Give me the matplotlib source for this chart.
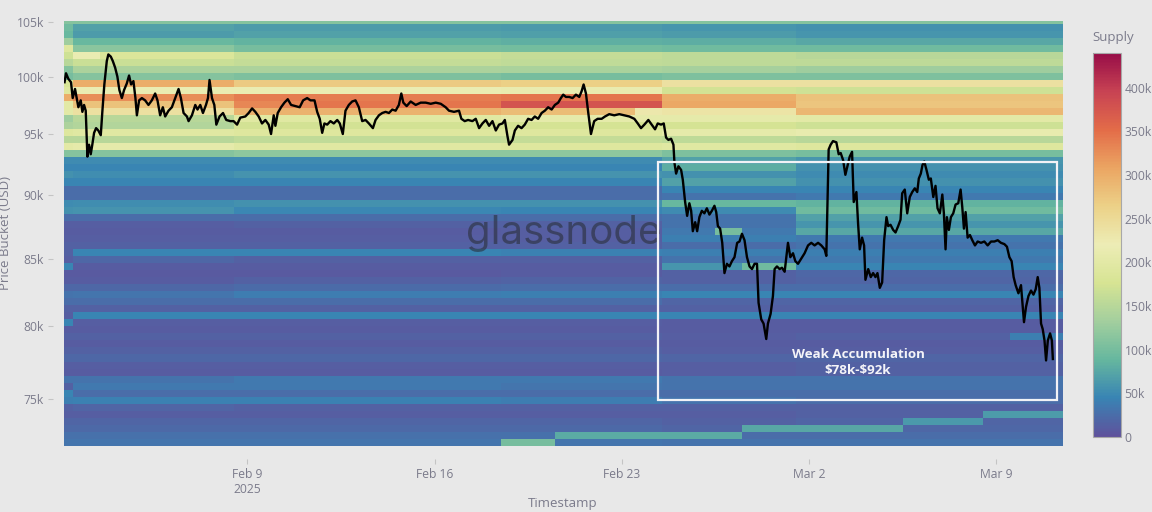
import numpy as np
import pandas as pd
import matplotlib
matplotlib.use("Agg")
import matplotlib.pyplot as plt
import matplotlib.dates as mdates
from matplotlib.colors import ListedColormap
from matplotlib.patches import Rectangle
from matplotlib.ticker import NullLocator, NullFormatter

plt.rcParams['font.family'] = ['Open Sans', 'DejaVu Sans']

# BTC price, hours after 2025-02-02 00:00 UTC, price in k USD
hours = [
    4, 5.3, 7.4, 9.8, 11.3, 13.4, 14.9, 16.4, 18.5, 20.0,
    21.5, 23.0, 24.5, 26.0, 27.5, 28.9, 30.5, 32.3, 34.3, 36.5,
    37.9, 39.7, 41.9, 43.3, 45.5, 47.3, 49.4, 51.4, 53.2, 55.4,
    57.4, 59.9, 61.9, 63.7, 65.8, 67.6, 68.9, 70.9, 73.4, 76.3,
    79.3, 82.3, 85.3, 87.4, 89.8, 92.2, 94.3, 97.3, 100.3, 103.3,
    106.3, 108.4, 110.8, 113.8, 115.3, 118.3, 121.3, 123.3, 125.8, 128.2,
    130.9, 132.7, 134.1, 136.3, 138.4, 140.2, 143.1, 146.2, 149.1, 152.7,
    155.7, 158.8, 161.7, 166.2, 169.2, 172.3, 175.2, 178.2, 181.2, 184.2,
    187.2, 189.3, 191.7, 193.2, 195.3, 198.3, 201.3, 204.3, 207.3, 211.2,
    215.0, 218.1, 221.7, 224.7, 228.3, 230.7, 233.0, 235.2, 237.2, 239.7,
    242.6, 245.6, 248.7, 251.0, 253.7, 256.1, 259.1, 262.1, 265.1, 268.1,
    271.1, 274.1, 277.1, 280.7, 283.1, 286.1, 289.1, 292.1, 295.1, 298.1,
    301.1, 304.0, 306.2, 308.0, 311.0, 314.6, 319.1, 323.6, 328.1, 332.6,
    337.1, 341.6, 346.0, 349.0, 353.5, 358.0, 360.1, 363.1, 366.1, 370.0,
    373.0, 376.0, 379.0, 382.0, 385.0, 388.0, 391.0, 393.9, 397.0, 399.1,
    401.5, 402.9, 406.0, 408.1, 411.0, 414.1, 417.0, 420.0, 423.1, 426.0,
    429.0, 432.1, 435.0, 438.0, 441.1, 444.0, 447.0, 449.4, 451.5, 453.9,
    456.9, 459.9, 462.9, 465.9, 468.0, 469.8, 471.9, 474.0, 476.4, 479.3,
    482.4, 486.0, 489.0, 492.8, 497.3, 501.8, 510.8, 515.3, 518.4, 521.3,
    524.3, 527.9, 530.9, 533.9, 536.3, 539.3, 541.7, 543.8, 545.9, 548.3,
    550.4, 551.3, 552.8, 554.9, 557.3, 558.8, 560.9, 562.7, 564.7, 566.3,
    567.8, 569.9, 571.7, 573.7, 575.9, 578.2, 580.4, 582.7, 584.9, 587.2,
    588.8, 590.3, 592.3, 594.2, 596.2, 598.4, 600.7, 602.9, 605.2, 607.6,
    609.7, 611.9, 614.2, 616.4, 618.7, 620.9, 623.2, 625.4, 626.8, 629.2,
    631.3, 633.7, 635.2, 637.6, 639.7, 641.2, 643.3, 645.7, 647.8, 650.2,
    651.7, 653.2, 655.3, 657.7, 659.8, 662.2, 665.2, 668.1, 671.2, 674.1,
    677.1, 680.2, 683.1, 686.1, 687.6, 689.7, 691.5, 693.6, 696.6, 698.7,
    700.5, 702.7, 704.7, 706.5, 708.6, 710.7, 712.2, 714.6, 716.1, 717.6,
    719.7, 721.5, 722.7, 725.2, 727.5, 729.6, 731.7, 733.5, 735.6, 737.7,
    739.5, 741.6, 743.1, 745.2, 747.6, 749.7, 752.1, 754.2, 755.7, 758.0,
    760.2, 762.5, 764.7, 767.0, 769.2, 770.6, 772.4, 773.9, 775.5, 777.5,
    779.6, 781.4, 783.6, 785.6, 787.4, 789.5, 791.7, 793.1, 794.6, 795.8,
    797.6, 799.4, 801.5, 803.6, 806.0, 808.1, 809.6, 811.1, 812.6, 814.4,
    816.5, 818.6, 821.0, 823.4, 826.4, 829.4, 832.4, 835.4, 838.4, 841.4,
    844.3, 847.4, 849.7, 851.9, 853.9, 855.7, 857.5, 860.0, 862.3, 863.6,
    865.0, 866.8, 869.0, 871.3, 873.5, 875.5, 877.3, 878.8, 880.3, 881.8,
    883.4, 884.8, 886.4, 888.4, 890.0, 890.9,
]
price_k = [
    99.5, 100.3, 99.8, 99.5, 98.1, 98.9, 98.1, 97.3, 97.9, 96.9,
    97.5, 97.0, 93.1, 94.1, 93.3, 94.1, 95.1, 95.5, 95.3, 94.9,
    96.9, 99.3, 101.4, 102.0, 101.8, 101.4, 100.8, 100.0, 98.8, 98.1,
    98.8, 99.4, 100.1, 99.3, 99.6, 98.1, 96.6, 97.9, 98.1, 97.9,
    97.5, 97.9, 98.5, 97.9, 96.6, 97.3, 96.5, 97.0, 97.3, 98.1,
    98.9, 98.1, 96.8, 96.5, 96.1, 96.6, 97.5, 97.1, 97.5, 96.8,
    97.5, 98.1, 99.7, 98.1, 97.5, 95.8, 96.5, 96.8, 96.2, 96.1,
    96.1, 95.8, 96.4, 96.5, 96.8, 97.2, 96.9, 96.5, 95.9, 96.2,
    95.8, 95.0, 96.6, 95.7, 96.8, 97.3, 97.7, 98.0, 97.5, 97.4,
    97.3, 97.9, 98.1, 97.9, 97.9, 96.9, 96.3, 95.1, 95.9, 95.8,
    96.1, 95.9, 96.2, 95.9, 95.0, 97.0, 97.5, 97.8, 97.9, 97.3,
    96.1, 96.2, 95.9, 95.5, 96.2, 96.6, 96.8, 96.9, 96.8, 97.1,
    97.0, 97.5, 98.5, 97.7, 97.4, 97.8, 97.5, 97.7, 97.7, 97.6,
    97.7, 97.6, 97.3, 97.0, 96.9, 97.0, 96.3, 96.1, 96.2, 96.1,
    96.3, 95.5, 95.9, 96.2, 95.7, 96.1, 95.3, 95.8, 95.9, 96.2,
    94.8, 94.1, 94.5, 95.3, 95.7, 95.5, 95.8, 96.3, 96.2, 96.5,
    96.3, 96.8, 97.0, 97.3, 97.1, 97.5, 97.7, 98.1, 98.4, 98.2,
    98.2, 98.1, 98.4, 98.2, 98.7, 99.3, 98.5, 96.8, 95.0, 96.1,
    96.3, 96.3, 96.5, 96.7, 96.6, 96.7, 96.5, 96.3, 95.9, 95.5,
    95.8, 96.2, 95.8, 95.4, 95.9, 95.8, 95.9, 94.7, 94.5, 94.6,
    94.1, 92.6, 91.7, 92.3, 92.0, 91.2, 89.4, 88.3, 89.3, 88.7,
    87.1, 87.8, 87.1, 88.2, 88.7, 88.5, 88.9, 88.4, 88.7, 89.1,
    88.6, 87.5, 87.3, 86.2, 83.9, 84.6, 84.4, 84.8, 85.1, 86.2,
    86.3, 86.9, 86.4, 85.1, 84.4, 84.2, 84.6, 84.6, 81.7, 80.5,
    80.2, 79.1, 80.2, 80.9, 82.2, 84.2, 84.4, 84.2, 84.3, 84.0,
    85.1, 86.2, 85.1, 85.4, 84.8, 84.6, 85.0, 85.4, 86.0, 86.2,
    86.0, 86.2, 86.0, 85.7, 85.2, 93.7, 94.1, 94.4, 94.3, 93.3,
    93.4, 92.8, 91.6, 92.3, 93.1, 93.5, 89.4, 90.2, 87.7, 85.7,
    86.6, 86.0, 83.4, 84.2, 83.6, 83.9, 83.6, 83.9, 82.8, 83.2,
    86.4, 88.2, 87.5, 87.6, 87.2, 87.0, 87.5, 88.0, 90.1, 90.4,
    88.5, 89.8, 90.2, 90.5, 90.2, 91.3, 91.7, 92.4, 92.7, 92.0,
    91.2, 91.3, 89.8, 90.7, 88.9, 88.5, 90.0, 88.5, 85.7, 88.2,
    87.2, 88.2, 88.5, 89.2, 89.3, 90.4, 89.0, 87.3, 88.6, 86.6,
    86.8, 86.4, 86.0, 86.3, 86.2, 86.3, 86.0, 86.3, 86.3, 86.4,
    86.2, 86.1, 85.9, 85.1, 84.8, 83.6, 83.0, 82.4, 83.0, 81.7,
    80.3, 81.4, 82.2, 82.6, 82.3, 82.7, 83.6, 82.8, 80.2, 79.8,
    79.0, 77.6, 79.0, 79.5, 79.0, 77.7,
]
assert len(hours) == len(price_k)

# supply per price bucket (k BTC), 61 log-spaced buckets, listed from the top bucket down
period_start = ["2025-02-02", "2025-02-03", "2025-02-09", "2025-02-19", "2025-02-25", "2025-03-02"]
supply_feb02 = [
    110, 95, 90, 130, 190, 170, 150, 110, 100, 180, 190, 300, 200, 200, 130, 140, 190, 150, 200, 110,
    50, 45, 55, 45, 25, 25, 50, 55, 25, 12, 10, 12, 15, 15,
    12, 45, 8, 10, 20, 30, 25, 15, 12, 45, 10, 15, 10, 15, 20, 12, 10, 30, 15, 45, 40, 15, 12, 18, 22, 28, 32,
]
supply_feb03 = [
    110, 70, 65, 90, 115, 185, 165, 140, 110, 300, 215, 325, 280, 240, 150, 145, 195, 150, 205, 110,
    50, 45, 52, 45, 25, 25, 52, 58, 25, 12, 10, 12, 15, 45,
    20, 10, 8, 10, 20, 32, 25, 15, 45, 12, 10, 15, 10, 15, 20, 12, 10, 30, 35, 25, 42, 18, 12, 18, 22, 28, 32,
]
supply_feb09 = [
    110, 65, 70, 85, 100, 165, 160, 140, 105, 270, 215, 340, 345, 295, 195, 172, 190, 158, 195, 118,
    50, 45, 58, 45, 25, 25, 55, 48, 25, 14, 10, 12, 15, 45,
    15, 10, 8, 14, 24, 38, 25, 15, 45, 12, 10, 15, 10, 15, 20, 12, 10, 35, 35, 25, 42, 15, 12, 18, 22, 28, 32,
]
supply_feb19 = [
    110, 62, 68, 82, 98, 160, 158, 138, 100, 265, 212, 345, 378, 285, 205, 175, 190, 160, 190, 118,
    50, 45, 58, 45, 25, 25, 55, 45, 25, 15, 12, 12, 15, 42,
    15, 10, 10, 16, 25, 40, 25, 15, 45, 12, 10, 15, 10, 15, 20, 12, 10, 35, 32, 25, 38, 15, 12, 18, 22, 28, 32,
]
supply_feb25 = [
    110, 60, 65, 80, 95, 155, 155, 135, 105, 240, 172, 300, 305, 235, 205, 175, 205, 155, 195, 105,
    70, 80, 55, 70, 45, 30, 90, 50, 30, 30, 35, 40, 25, 40,
    30, 60, 15, 15, 25, 45, 18, 15, 45, 10, 10, 12, 10, 12, 18, 12, 12, 30, 30, 25, 30, 15, 12, 15, 18, 25, 30,
]
supply_mar02 = [
    110, 55, 60, 75, 95, 150, 155, 130, 105, 240, 170, 280, 275, 290, 200, 170, 210, 150, 190, 100,
    60, 55, 50, 55, 45, 35, 85, 95, 70, 60, 75, 35, 30, 40,
    35, 45, 20, 18, 25, 45, 18, 15, 45, 10, 10, 15, 10, 12, 18, 14, 15, 30, 30, 25, 25, 15, 15, 18, 20, 25, 30,
]
supply_profiles = [supply_feb02, supply_feb03, supply_feb09, supply_feb19, supply_feb25, supply_mar02]
# (bucket number from the bottom, first day, last day, supply k BTC)
supply_patches = [
    (0, "2025-02-19", "2025-02-20", 100),
    (1, "2025-02-21", "2025-02-27", 78),
    (2, "2025-02-28", "2025-03-05", 75),
    (3, "2025-03-06", "2025-03-08", 62),
    (4, "2025-03-09", "2025-03-11", 65),
    (25, "2025-02-28", "2025-03-01", 95),
    (30, "2025-02-27", "2025-02-27", 100),
    (15, "2025-03-10", "2025-03-11", 40),
    (55, "2025-02-03", "2025-02-03", 215),
    (47, "2025-02-24", "2025-02-24", 230),
    (48, "2025-02-09", "2025-02-11", 330),
]

ytick_vals = [75000, 80000, 85000, 90000, 95000, 100000, 105000]
ytick_labels = ["75k", "80k", "85k", "90k", "95k", "100k", "105k"]
xtick_dates = ["2025-02-09", "2025-02-16", "2025-02-23", "2025-03-02", "2025-03-09"]
xtick_labels = ["Feb 9\n2025", "Feb 16", "Feb 23", "Mar 2", "Mar 9"]
cbar_ticks = [0, 50000, 100000, 150000, 200000, 250000, 300000, 350000, 400000]
cbar_labels = ["0", "50k", "100k", "150k", "200k", "250k", "300k", "350k", "400k"]

bg = '#e8e8e8'
grey = '#7b7b8b'

# grid
days = pd.date_range("2025-02-02", "2025-03-11", freq="D")
n_buckets = len(supply_feb02)
y_edges = np.geomspace(71890, 105510, n_buckets + 1)
x_edges = mdates.date2num(list(days - pd.Timedelta(hours=12)) + [days[-1] + pd.Timedelta(hours=12)])

Z = np.zeros((n_buckets, len(days)))
starts = pd.to_datetime(period_start)
for j, d in enumerate(days):
    idx = int((starts <= d).sum()) - 1
    Z[:, j] = np.array(supply_profiles[idx][::-1], dtype=float)
for row, d0, d1, v in supply_patches:
    mask = (days >= pd.Timestamp(d0)) & (days <= pd.Timestamp(d1))
    Z[row, mask] = v
Z = Z * 1000

base = plt.get_cmap('Spectral_r')(np.linspace(0, 1, 256))[:, :3]
muted = base * 0.88 + np.array([0.40, 0.40, 0.44]) * 0.12
cmap = ListedColormap(muted)

fig = plt.figure(figsize=(11.52, 5.12), dpi=100, facecolor=bg)
ax = fig.add_axes([64 / 1152, 1 - 446 / 512, 999 / 1152, 425.5 / 512])
ax.set_facecolor(bg)

mesh = ax.pcolormesh(x_edges, y_edges, Z, cmap=cmap, vmin=0, vmax=440000, shading='flat')

t = pd.Timestamp("2025-02-02") + pd.to_timedelta(hours, unit="h")
ax.plot(mdates.date2num(t), np.array(price_k) * 1000, color='black', lw=1.7,
        solid_joinstyle='round', zorder=4)

ax.set_yscale('log')
ax.set_ylim(71890, 105140)
ax.set_xlim(mdates.date2num(pd.Timestamp("2025-02-02 03:30")),
            mdates.date2num(pd.Timestamp("2025-03-11 12:00")))

ax.set_yticks(ytick_vals)
ax.set_yticklabels(ytick_labels)
ax.yaxis.set_minor_locator(NullLocator())
ax.yaxis.set_minor_formatter(NullFormatter())
ax.set_xticks(mdates.date2num(pd.to_datetime(xtick_dates)))
ax.set_xticklabels(xtick_labels)

for s in ax.spines.values():
    s.set_visible(False)
ax.spines['left'].set_position(('outward', 8))
ax.spines['bottom'].set_position(('outward', 9))
ax.tick_params(axis='both', colors='#c4c4c4', length=3.5, width=0.8, labelcolor=grey, labelsize=8.7)
ax.tick_params(axis='y', pad=3)
ax.tick_params(axis='x', pad=3)

# highlighted zone
x0 = mdates.date2num(pd.Timestamp("2025-02-24 08:30"))
x1 = mdates.date2num(pd.Timestamp("2025-03-11 07:00"))
ax.add_patch(Rectangle((x0, 74900), x1 - x0, 92650 - 74900, fill=False,
                       ec='#f2f2f6', lw=1.6, zorder=5))
ax.text(mdates.date2num(pd.Timestamp("2025-03-03 20:00")), 77450,
        "Weak Accumulation\n\\$78k-\\$92k", ha='center', va='center', color='#f4f4f8',
        fontsize=9.6, fontweight='bold', linespacing=1.3, zorder=6)

ax.text(0.5, 0.5, "glassnode", transform=ax.transAxes, ha='center', va='center',
        fontsize=29, color='#2a2f3a', alpha=0.6, family=['Inter', 'DejaVu Sans'], zorder=3)

fig.text(6 / 1152, 1 - 233 / 512, "Price Bucket (USD)", rotation=90, ha='center', va='center',
         color=grey, fontsize=9.5)
fig.text(563 / 1152, 1 - 504 / 512, "Timestamp", ha='center', va='center', color=grey, fontsize=9.5)

cax = fig.add_axes([1093 / 1152, 1 - 437 / 512, 28 / 1152, 384.3 / 512])
cb = fig.colorbar(mesh, cax=cax, ticks=cbar_ticks)
cb.ax.set_yticklabels(cbar_labels)
cb.outline.set_edgecolor('#a8a8a8')
cb.outline.set_linewidth(0.8)
cb.ax.tick_params(length=0, pad=2.5, labelsize=8.7, labelcolor=grey)
fig.text(1092 / 1152, 1 - 38 / 512, "Supply", ha='left', va='center', color=grey, fontsize=9.5)

fig.savefig("out.png", dpi=100, facecolor=bg)
